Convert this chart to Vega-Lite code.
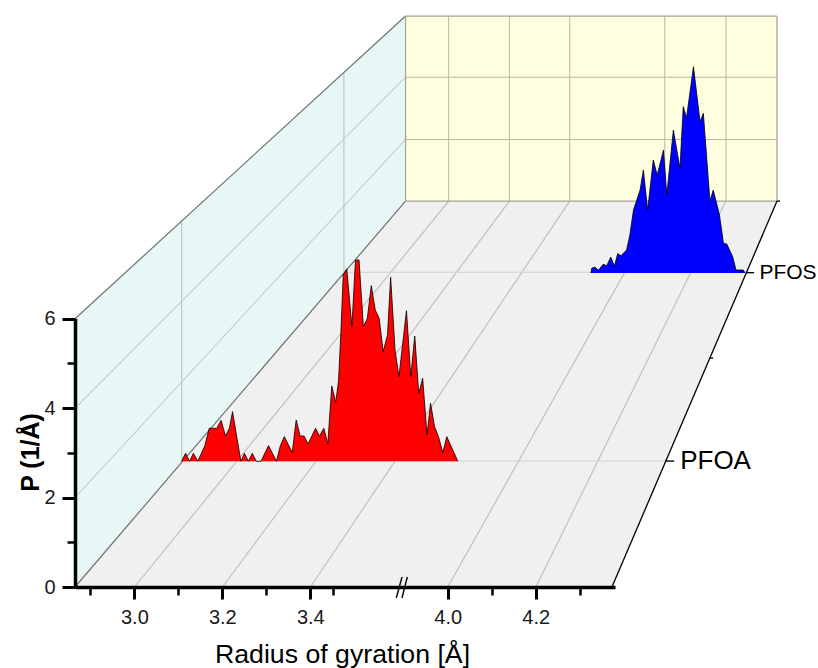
{
"$schema":"https://vega.github.io/schema/vega-lite/v6.json",
"width":702,"height":571,"autosize":{"type":"none"},
"padding":{"left":75,"top":16,"right":41,"bottom":81},
"background":"white",
"config":{"view":{"stroke":null},"font":"Liberation Sans"},
"datasets":{
"planes":[
{"plane":"wall","x":2.865,"top":6,"bottom":0},{"plane":"wall","x":3.616,"top":12.77,"bottom":8.63},
{"plane":"back","x":3.616,"top":12.77,"bottom":8.63},{"plane":"back","x":4.46,"top":12.77,"bottom":8.63},
{"plane":"floor","x":2.865,"top":0,"bottom":0},{"plane":"floor","x":3.616,"top":8.63,"bottom":0},{"plane":"floor","x":4.085,"top":8.63,"bottom":0},{"plane":"floor","x":4.46,"top":8.63,"bottom":8.63}
],
"lines":[
{"id":"w1","kind":"wallgrid","x":2.865,"y":2},{"id":"w1","kind":"wallgrid","x":3.616,"y":10.01},
{"id":"w2","kind":"wallgrid","x":2.865,"y":4},{"id":"w2","kind":"wallgrid","x":3.616,"y":11.4},
{"id":"w3","kind":"wallgrid","x":3.1075,"y":2.817},{"id":"w3","kind":"wallgrid","x":3.1075,"y":8.2},
{"id":"w4","kind":"wallgrid","x":3.476,"y":7.04},{"id":"w4","kind":"wallgrid","x":3.476,"y":11.49},
{"id":"b1","kind":"backgrid","x":3.714,"y":8.63},{"id":"b1","kind":"backgrid","x":3.714,"y":12.77},
{"id":"b2","kind":"backgrid","x":3.852,"y":8.63},{"id":"b2","kind":"backgrid","x":3.852,"y":12.77},
{"id":"b3","kind":"backgrid","x":3.989,"y":8.63},{"id":"b3","kind":"backgrid","x":3.989,"y":12.77},
{"id":"b4","kind":"backgrid","x":4.205,"y":8.63},{"id":"b4","kind":"backgrid","x":4.205,"y":12.77},
{"id":"b5","kind":"backgrid","x":4.344,"y":8.63},{"id":"b5","kind":"backgrid","x":4.344,"y":12.77},
{"id":"b6","kind":"backgrid","x":3.616,"y":10.01},{"id":"b6","kind":"backgrid","x":4.46,"y":10.01},
{"id":"b7","kind":"backgrid","x":3.616,"y":11.4},{"id":"b7","kind":"backgrid","x":4.46,"y":11.4},
{"id":"f1","kind":"floorgrid","x":3.0,"y":0},{"id":"f1","kind":"floorgrid","x":3.714,"y":8.63},
{"id":"f2","kind":"floorgrid","x":3.2,"y":0},{"id":"f2","kind":"floorgrid","x":3.852,"y":8.63},
{"id":"f3","kind":"floorgrid","x":3.4,"y":0},{"id":"f3","kind":"floorgrid","x":3.989,"y":8.63},
{"id":"f4","kind":"floorgrid","x":3.712,"y":0},{"id":"f4","kind":"floorgrid","x":4.205,"y":8.63},
{"id":"f5","kind":"floorgrid","x":3.912,"y":0},{"id":"f5","kind":"floorgrid","x":4.344,"y":8.63},
{"id":"h1","kind":"floorh","x":3.1075,"y":2.817},{"id":"h1","kind":"floorh","x":4.206,"y":2.817},
{"id":"h2","kind":"floorh","x":3.476,"y":7.04},{"id":"h2","kind":"floorh","x":4.392,"y":7.04},
{"id":"e1","kind":"edge","x":2.865,"y":6},{"id":"e1","kind":"edge","x":3.616,"y":12.77},
{"id":"e2","kind":"edge","x":2.865,"y":0},{"id":"e2","kind":"edge","x":3.616,"y":8.63},
{"id":"k1","kind":"backframe","x":3.616,"y":12.77},{"id":"k1","kind":"backframe","x":4.46,"y":12.77},
{"id":"k2","kind":"backframe","x":3.616,"y":8.63},{"id":"k2","kind":"backframe","x":4.46,"y":8.63},
{"id":"k3","kind":"backframe","x":3.616,"y":8.63},{"id":"k3","kind":"backframe","x":3.616,"y":12.77},
{"id":"k4","kind":"backframe","x":4.46,"y":8.63},{"id":"k4","kind":"backframe","x":4.46,"y":12.77},
{"id":"r1","kind":"rightedge","x":4.085,"y":0},{"id":"r1","kind":"rightedge","x":4.46,"y":8.63},
{"id":"t1","kind":"tick","x":4.206,"y":2.817},{"id":"t1","kind":"tick","x":4.2265,"y":2.817},
{"id":"t2","kind":"tick","x":4.39,"y":7.03},{"id":"t2","kind":"tick","x":4.408,"y":7.03},
{"id":"t3","kind":"tick","x":4.306,"y":5.12},{"id":"t3","kind":"tick","x":4.315,"y":5.12},
{"id":"t4","kind":"tick","x":4.46,"y":8.63},{"id":"t4","kind":"tick","x":4.467,"y":8.63},
{"id":"s1","kind":"break","x":3.595,"y":-0.246},{"id":"s1","kind":"break","x":3.608,"y":0.224},
{"id":"s2","kind":"break","x":3.608,"y":-0.246},{"id":"s2","kind":"break","x":3.62,"y":0.224}
],
"pfoa":[
{"r":2.860,"p":0},{"r":2.870,"p":0.199},{"r":2.880,"p":0},{"r":2.890,"p":0.199},{"r":2.901,"p":0},{"r":2.919,"p":0.39},{"r":2.930,"p":0.821},{"r":2.949,"p":0.821},{"r":2.960,"p":1.02},{"r":2.971,"p":0.63},{"r":2.981,"p":0.821},{"r":2.989,"p":1.235},{"r":3.010,"p":0},{"r":3.019,"p":0.199},{"r":3.029,"p":0},{"r":3.039,"p":0.199},{"r":3.049,"p":0},{"r":3.061,"p":0},{"r":3.080,"p":0.39},{"r":3.100,"p":0},{"r":3.110,"p":0.39},{"r":3.120,"p":0.614},{"r":3.140,"p":0.216},{"r":3.150,"p":1.028},{"r":3.160,"p":0.63},{"r":3.170,"p":0.63},{"r":3.180,"p":0.431},{"r":3.199,"p":0.821},{"r":3.209,"p":0.63},{"r":3.220,"p":0.821},{"r":3.230,"p":0.431},{"r":3.240,"p":1.874},{"r":3.250,"p":1.468},{"r":3.257,"p":1.982},{"r":3.263,"p":3.184},{"r":3.269,"p":4.635},{"r":3.278,"p":4.784},{"r":3.291,"p":3.35},{"r":3.300,"p":5.008},{"r":3.309,"p":5.008},{"r":3.320,"p":3.35},{"r":3.330,"p":3.557},{"r":3.340,"p":4.37},{"r":3.350,"p":3.765},{"r":3.360,"p":3.557},{"r":3.370,"p":2.728},{"r":3.381,"p":3.143},{"r":3.389,"p":4.577},{"r":3.400,"p":2.769},{"r":3.410,"p":2.106},{"r":3.429,"p":3.748},{"r":3.440,"p":2.106},{"r":3.450,"p":3.118},{"r":3.460,"p":1.692},{"r":3.470,"p":2.065},{"r":3.481,"p":0.655},{"r":3.490,"p":1.443},{"r":3.500,"p":0.862},{"r":3.510,"p":0.614},{"r":3.521,"p":0.216},{"r":3.531,"p":0.614},{"r":3.559,"p":0}
],
"pfos":[
{"r":3.898,"p":0},{"r":3.900,"p":0.139},{"r":3.910,"p":0.179},{"r":3.920,"p":0.08},{"r":3.935,"p":0.259},{"r":3.946,"p":0.219},{"r":3.958,"p":0.478},{"r":3.969,"p":0.199},{"r":3.979,"p":0.578},{"r":3.989,"p":0.518},{"r":4.006,"p":0.687},{"r":4.016,"p":1.135},{"r":4.027,"p":1.882},{"r":4.047,"p":2.48},{"r":4.057,"p":3.078},{"r":4.070,"p":1.882},{"r":4.087,"p":3.376},{"r":4.099,"p":2.928},{"r":4.118,"p":3.675},{"r":4.128,"p":2.331},{"r":4.148,"p":4.273},{"r":4.168,"p":3.127},{"r":4.178,"p":4.97},{"r":4.188,"p":4.641},{"r":4.209,"p":6.165},{"r":4.229,"p":4.522},{"r":4.239,"p":4.771},{"r":4.259,"p":2.151},{"r":4.269,"p":2.48},{"r":4.288,"p":1.733},{"r":4.300,"p":0.886},{"r":4.310,"p":0.867},{"r":4.328,"p":0.488},{"r":4.338,"p":0.09},{"r":4.360,"p":0.09},{"r":4.366,"p":0}
]
},
"layer":[
{"data":{"name":"planes"},"mark":{"type":"area","opacity":1},
 "encoding":{
  "x":{"field":"x","type":"quantitative","axis":null,"scale":{"domain":[2.865,4.46],"range":[0,702],"nice":false,"zero":false}},
  "y":{"field":"top","type":"quantitative","stack":null,"axis":null,"scale":{"domain":[0,12.77],"range":[571,0],"nice":false}},
  "y2":{"field":"bottom"},
  "color":{"field":"plane","type":"nominal","legend":null,"scale":{"domain":["wall","back","floor"],"range":["#e6f7f6","#ffffdf","#f0f0f0"]}}
 }},
{"data":{"name":"lines"},"mark":{"type":"line","clip":false},
 "encoding":{
  "x":{"field":"x","type":"quantitative","axis":null,"scale":{"domain":[2.865,4.46],"range":[0,702],"nice":false,"zero":false}},
  "y":{"field":"y","type":"quantitative","axis":null,"scale":{"domain":[0,12.77],"range":[571,0],"nice":false}},
  "detail":{"field":"id"},
  "color":{"field":"kind","type":"nominal","legend":null,"scale":{"domain":["wallgrid","backgrid","floorgrid","floorh","edge","backframe","rightedge","tick","break"],"range":["#b8bebe","#b9b9a9","#bcbcbc","#d0d0d0","#707070","#a3a39a","#000000","#000000","#000000"]}},
  "strokeWidth":{"field":"kind","type":"nominal","legend":null,"scale":{"domain":["wallgrid","backgrid","floorgrid","floorh","edge","backframe","rightedge","tick","break"],"range":[1,1.4,1,1,1,2,2,1.5,3.5]}}
 }},
{"data":{"name":"pfoa"},"mark":{"type":"area","color":"#ff0000","opacity":1,"line":{"color":"#000000","strokeWidth":0.8}},
 "encoding":{
  "x":{"field":"r","type":"quantitative","axis":null,"scale":{"domain":[3.0,3.4],"range":[161.9,320],"nice":false,"zero":false}},
  "y":{"field":"p","type":"quantitative","stack":null,"axis":null,"scale":{"domain":[0,5],"range":[445.3,244.3],"nice":false}}
 }},
{"data":{"name":"pfos"},"mark":{"type":"area","color":"#0000ff","opacity":1,"line":{"color":"#000000","strokeWidth":0.8}},
 "encoding":{
  "x":{"field":"r","type":"quantitative","axis":null,"scale":{"domain":[4.0,4.2],"range":[549.6,615.5],"nice":false,"zero":false}},
  "y":{"field":"p","type":"quantitative","stack":null,"axis":null,"scale":{"domain":[0,6],"range":[257,56.2],"nice":false}}
 }},
{"data":{"values":[{"label":"PFOA","x":4.24,"y":2.817}]},"mark":{"type":"text","align":"left","baseline":"middle","fontSize":26,"font":"Liberation Sans","color":"#000000"},
 "encoding":{
  "x":{"field":"x","type":"quantitative","axis":null,"scale":{"domain":[2.865,4.46],"range":[0,702],"nice":false,"zero":false}},
  "y":{"field":"y","type":"quantitative","axis":null,"scale":{"domain":[0,12.77],"range":[571,0],"nice":false}},
  "text":{"field":"label"}
 }},
{"data":{"values":[{"label":"PFOS","x":4.42,"y":7.03}]},"mark":{"type":"text","align":"left","baseline":"middle","fontSize":21,"font":"Liberation Sans","color":"#000000"},
 "encoding":{
  "x":{"field":"x","type":"quantitative","axis":null,"scale":{"domain":[2.865,4.46],"range":[0,702],"nice":false,"zero":false}},
  "y":{"field":"y","type":"quantitative","axis":null,"scale":{"domain":[0,12.77],"range":[571,0],"nice":false}},
  "text":{"field":"label"}
 }},
{"data":{"values":[{"r":3.0,"p":0},{"r":3.2,"p":2},{"r":3.4,"p":4},{"r":4.0,"p":6},{"r":4.2,"p":6}]},"mark":{"type":"point","opacity":0},
 "encoding":{
  "x":{"field":"r","type":"quantitative","title":"Radius of gyration [Å]","scale":{"domain":[2.865,3.4,4.0,4.38],"range":[0,235.3,372.7,540],"nice":false,"zero":false},
   "axis":{"orient":"bottom","values":[3.0,3.2,3.4,4.0,4.2],"format":".1f","grid":false,"zindex":1,"domainColor":"#000000","domainWidth":3.5,"tickColor":"#000000","tickWidth":3,"tickSize":12,"labelFontSize":20,"labelColor":"#1a1a1a","labelFont":"Liberation Sans","labelPadding":8,"labelFlush":false,"labelOverlap":false,"titleFont":"Liberation Sans","titleFontSize":26.7,"titleFontWeight":"normal","titleColor":"#000000","titleX":267,"titleY":75,"titleAlign":"center","titleBaseline":"alphabetic"}},
  "y":{"field":"p","type":"quantitative","title":"P (1/Å)","scale":{"domain":[0,6],"range":[571,302.6],"nice":false},
   "axis":{"orient":"left","values":[0,2,4,6],"grid":false,"zindex":1,"domainColor":"#000000","domainWidth":3.5,"tickColor":"#000000","tickWidth":3,"tickSize":13,"labelFontSize":20,"labelColor":"#1a1a1a","labelFont":"Liberation Sans","labelPadding":7,"labelFlush":false,"labelOverlap":false,"titleFont":"Liberation Sans","titleFontSize":25,"titleFontWeight":"bold","titleColor":"#000000","titleX":-37,"titleY":436,"titleAlign":"center","titleBaseline":"alphabetic","titleAngle":-90}}
 }},
{"data":{"values":[{"r":2.9,"p":1},{"r":3.1,"p":3},{"r":3.3,"p":5},{"r":3.5,"p":5},{"r":4.1,"p":5},{"r":4.3,"p":5}]},"mark":{"type":"point","opacity":0},
 "encoding":{
  "x":{"field":"r","type":"quantitative","title":null,"scale":{"domain":[2.865,3.4,4.0,4.38],"range":[0,235.3,372.7,540],"nice":false,"zero":false},
   "axis":{"orient":"bottom","values":[2.9,3.1,3.3,3.5,4.1,4.3],"labels":false,"domain":false,"grid":false,"zindex":1,"tickColor":"#000000","tickWidth":2.5,"tickSize":8,"title":null}},
  "y":{"field":"p","type":"quantitative","title":null,"scale":{"domain":[0,6],"range":[571,302.6],"nice":false},
   "axis":{"orient":"left","values":[1,3,5],"labels":false,"domain":false,"grid":false,"zindex":1,"tickColor":"#000000","tickWidth":2.5,"tickSize":8,"title":null}}
 }}
],
"resolve":{"scale":{"x":"independent","y":"independent","color":"independent","strokeWidth":"independent"},"axis":{"x":"independent","y":"independent"}}
}
